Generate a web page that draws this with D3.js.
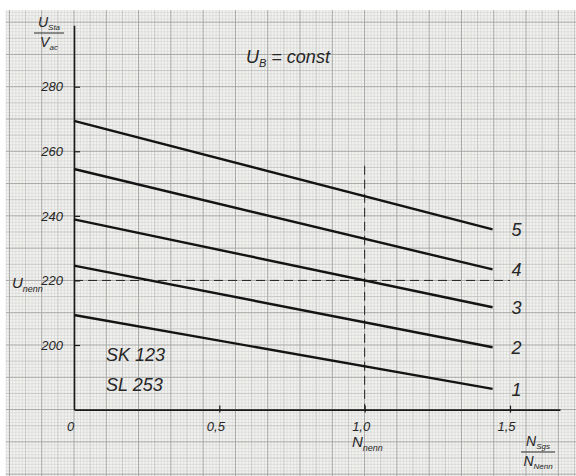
<!DOCTYPE html>
<html>
<head>
<meta charset="utf-8">
<script src="https://cdn.jsdelivr.net/npm/d3@7"></script>
<style>
  html, body { margin: 0; padding: 0; background: #ffffff; }
  svg text { font-family: "Liberation Sans", "DejaVu Sans", sans-serif; font-style: italic; fill: #262626; }
</style>
</head>
<body>
<svg id="chart" width="576" height="476"></svg>
<script>
// Curve identifiers, drawn at the right end of each line
const curveIds = ["1", "2", "3", "4", "5"];
// Relative speed at start and end of each curve
const speedStart = 0;
const speedEnd = 1.44;
// Voltage at start and end of each curve (same order as curveIds)
const voltageStart = [209.3, 224.6, 238.9, 254.5, 269.4];
const voltageEnd   = [186.4, 199.3, 211.7, 223.4, 235.8];
// Axis ticks
const xTicks = [0, 0.5, 1.0, 1.5];
const xTickLabels = ["0", "0,5", "1,0", "1,5"];
const yTicks = [200, 220, 240, 260, 280];
// Reference markers
const nominalVoltage = 220;
const nominalSpeed = 1.0;
const nominalSpeedTop = 255.5;

const svg = d3.select("#chart");

// Scales
const x = d3.scaleLinear().domain([0, 1.5]).range([74, 510]);
const y = d3.scaleLinear().domain([200, 280]).range([345, 86.7]);
const xAxisEnd = 1.672;
const yAxisLo = 180, yAxisHi = 299;

// Graph-paper background (1-unit, 5-unit and 10-unit rulings)
const paper = svg.append("g");
const px0 = 6, py0 = 10, px1 = 576, py1 = 476;
paper.append("rect").attr("x", px0).attr("y", py0)
  .attr("width", px1 - px0).attr("height", py1 - py0).attr("fill", "#f2f2f0");
const pitch = (y(200) - y(280)) / 80; // one voltage unit in px
const ox = x(0), oy = y(yAxisLo);
const vLines = d3.range(Math.ceil((px0 - ox) / pitch), Math.floor((px1 - ox) / pitch) + 1);
const hLines = d3.range(Math.ceil((py0 - oy) / pitch), Math.floor((py1 - oy) / pitch) + 1);
function rule(k) { return k % 10 === 0 ? 2 : (k % 5 === 0 ? 1 : 0); }
const ruleColor = ["#d3d3d1", "#bebebc", "#a6a6a4"];
const ruleWidth = [0.6, 0.8, 1.0];
[0, 1, 2].forEach(level => {
  paper.selectAll(null).data(vLines.filter(k => rule(Math.abs(k)) === level)).join("line")
    .attr("x1", k => ox + k * pitch).attr("x2", k => ox + k * pitch)
    .attr("y1", py0).attr("y2", py1)
    .attr("stroke", ruleColor[level]).attr("stroke-width", ruleWidth[level]);
  paper.selectAll(null).data(hLines.filter(k => rule(Math.abs(k)) === level)).join("line")
    .attr("y1", k => oy + k * pitch).attr("y2", k => oy + k * pitch)
    .attr("x1", px0).attr("x2", px1)
    .attr("stroke", ruleColor[level]).attr("stroke-width", ruleWidth[level]);
});

// Axes
const xAxisScale = d3.scaleLinear().domain([0, xAxisEnd]).range([x(0), x(xAxisEnd)]);
const gx = svg.append("g").attr("transform", `translate(0,${y(yAxisLo)})`)
  .call(d3.axisBottom(xAxisScale).tickValues(xTicks)
    .tickFormat((d, i) => xTickLabels[i]).tickSizeInner(3).tickSizeOuter(0).tickPadding(9));
gx.select(".domain").attr("stroke", "#1a1a1a").attr("stroke-width", 1.6);
gx.selectAll(".tick line").attr("y1", -4).attr("stroke", "#1a1a1a").attr("stroke-width", 1.2);
gx.selectAll(".tick text").attr("font-size", 13).attr("dx", -4).style("font-family", null);
gx.select(".tick line").remove();

const yAxisScale = d3.scaleLinear().domain([yAxisLo, yAxisHi]).range([y(yAxisLo), y(yAxisHi)]);
const gy = svg.append("g").attr("transform", `translate(${x(0)},0)`)
  .call(d3.axisLeft(yAxisScale).tickValues(yTicks).tickSizeInner(6).tickSizeOuter(0).tickPadding(5));
gy.select(".domain").attr("stroke", "#1a1a1a").attr("stroke-width", 1.6);
gy.selectAll(".tick line").attr("x2", 6).attr("stroke", "#1a1a1a").attr("stroke-width", 1.2);
gy.selectAll(".tick text").attr("font-size", 13).style("font-family", null);
svg.selectAll(".tick text").attr("fill", "#262626");

// Dashed reference lines at nominal voltage and nominal speed
svg.append("line")
  .attr("x1", x(0)).attr("x2", x(1.5)).attr("y1", y(nominalVoltage)).attr("y2", y(nominalVoltage))
  .attr("stroke", "#222").attr("stroke-width", 1).attr("stroke-dasharray", "9,5");
svg.append("line")
  .attr("x1", x(nominalSpeed)).attr("x2", x(nominalSpeed))
  .attr("y1", y(nominalSpeedTop)).attr("y2", y(yAxisLo))
  .attr("stroke", "#222").attr("stroke-width", 1).attr("stroke-dasharray", "9,5");

// Curves
const curves = curveIds.map((id, i) => ({ id, pts: [[speedStart, voltageStart[i]], [speedEnd, voltageEnd[i]]] }));
const line = d3.line().x(d => x(d[0])).y(d => y(d[1]));
svg.append("g").selectAll("path").data(curves).join("path")
  .attr("d", d => line(d.pts)).attr("fill", "none")
  .attr("stroke", "#141414").attr("stroke-width", 2.4);
svg.append("g").selectAll("text").data(curves).join("text")
  .attr("x", d => x(d.pts[1][0]) + 19).attr("y", d => y(d.pts[1][1]) + 7)
  .attr("font-size", 18).text(d => d.id);

// Annotations
const ub = svg.append("text").attr("x", 246).attr("y", 63).attr("font-size", 18);
ub.append("tspan").text("U");
ub.append("tspan").attr("font-size", 11).attr("dy", 4).text("B");
ub.append("tspan").attr("dy", -4).text(" = const");

svg.append("text").attr("x", 106).attr("y", 361).attr("font-size", 18).text("SK 123");
svg.append("text").attr("x", 106).attr("y", 391).attr("font-size", 18).text("SL 253");

// U_nenn label on the voltage axis
const un = svg.append("text").attr("x", 12).attr("y", 288).attr("font-size", 15);
un.append("tspan").text("U");
un.append("tspan").attr("font-size", 9).attr("dy", 4).text("nenn");

// N_nenn label under the 1,0 tick
const nn = svg.append("text").attr("x", 352).attr("y", 447).attr("font-size", 15);
nn.append("tspan").text("N");
nn.append("tspan").attr("font-size", 9).attr("dy", 4).text("nenn");

// Axis unit fractions
function fraction(cx, yTop, num, numSub, den, denSub, barW) {
  const g = svg.append("g");
  const t1 = g.append("text").attr("x", cx).attr("y", yTop).attr("text-anchor", "middle").attr("font-size", 14);
  t1.append("tspan").text(num);
  t1.append("tspan").attr("font-size", 8).attr("dy", 3).text(numSub);
  g.append("line").attr("x1", cx - barW / 2).attr("x2", cx + barW / 2)
    .attr("y1", yTop + 6).attr("y2", yTop + 6).attr("stroke", "#2a2a2a").attr("stroke-width", 1);
  const t2 = g.append("text").attr("x", cx).attr("y", yTop + 20).attr("text-anchor", "middle").attr("font-size", 14);
  t2.append("tspan").text(den);
  t2.append("tspan").attr("font-size", 8).attr("dy", 3).text(denSub);
}
fraction(49, 27, "U", "Sta", "V", "ac", 30);
fraction(538, 446, "N", "Sgs", "N", "Nenn", 34);
</script>
</body>
</html>
